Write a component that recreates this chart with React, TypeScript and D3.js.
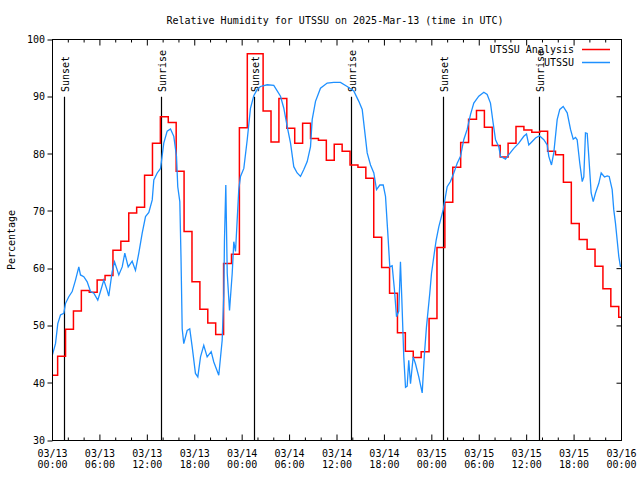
import React from "react";
import * as d3 from "d3";

// Hourly analysis values (step changes ~0.35 h before each hour mark), hours 0..72 from 03/13 00:00 UTC
const analysisValues = [
  41.4, 44.7, 49.4, 52.6, 56.2, 55.9, 58.0, 58.8, 63.2, 64.8,
  69.7, 70.7, 76.3, 81.9, 86.5, 85.5, 77.0, 66.5, 57.7, 52.9,
  50.5, 48.5, 60.9, 62.5, 84.6, 97.5, 97.5, 87.5, 82.1, 89.7,
  84.5, 81.9, 85.4, 82.7, 82.4, 78.9, 81.7, 80.5, 78.1, 77.7,
  75.8, 65.5, 60.2, 55.7, 48.8, 45.6, 44.5, 45.5, 51.3, 63.7,
  71.6, 77.7, 82.0, 86.1, 87.6, 84.7, 81.5, 79.5, 81.9, 84.8,
  84.2, 83.8, 84.0, 80.5, 79.9, 75.1, 67.9, 65.1, 63.4, 60.4,
  56.5, 53.4, 51.5,
];
const analysisStepOffset = -0.35;

// Station observations: hours since 03/13 00:00 UTC and relative humidity
const obsHours = [
  0, 0.38, 0.67, 1.01, 1.43, 1.64, 2.06, 2.49, 2.91, 3.33, 3.54, 3.96, 4.39, 4.81, 5.23, 5.73,
  6.07, 6.49, 6.92, 7.12, 7.55, 7.85, 8.39, 8.82, 9.15, 9.58, 10.08, 10.5, 10.92, 11.35, 11.77,
  12.19, 12.62, 12.82, 13.25, 13.67, 14.08, 14.51, 14.93, 15.35, 15.69, 15.85, 16.11, 16.26,
  16.41, 16.61, 17.04, 17.37, 17.68, 18.09, 18.39, 18.73, 19.14, 19.57, 20.08, 20.41, 21.04,
  21.47, 21.68, 21.76, 21.93, 22.11, 22.4, 22.74, 22.94, 23.16, 23.37, 23.57, 23.79, 24.21,
  24.64, 25.05, 25.47, 25.9, 26.32, 27.17, 28.0, 28.85, 29.27, 29.7, 30.12, 30.53, 30.96,
  31.38, 31.8, 32.23, 32.65, 32.86, 33.28, 33.91, 34.76, 35.59, 36.44, 37.29, 38.12, 38.76,
  39.19, 39.48, 39.82, 40.24, 40.66, 41.0, 41.42, 41.85, 42.14, 42.35, 42.43, 42.68, 42.98,
  43.27, 43.53, 43.82, 44.03, 44.2, 44.45, 44.67, 44.88, 45.08, 45.3, 45.64, 45.93, 46.35,
  46.78, 47.07, 47.32, 47.74, 47.96, 48.25, 48.55, 48.88, 49.44, 49.94, 50.36, 50.78, 51.21,
  51.63, 52.04, 52.47, 52.89, 53.31, 53.94, 54.58, 55.0, 55.42, 55.76, 56.06, 56.47, 56.69,
  57.32, 57.74, 58.37, 59.0, 59.64, 59.98, 60.27, 60.7, 61.12, 61.62, 62.17, 62.6, 62.8,
  63.14, 63.43, 63.86, 64.19, 64.62, 65.13, 65.55, 65.89, 66.18, 66.39, 66.72, 67.03, 67.23,
  67.44, 67.66, 67.86, 68.16, 68.42, 68.71, 69.13, 69.43, 69.85, 70.19, 70.44, 70.82, 71.02,
  71.24, 71.45, 71.66, 71.87,
];
const obsValues = [
  45.0, 46.9, 50.4, 51.9, 52.2, 53.9, 55.1, 56.0, 58.0, 60.3, 58.9, 58.6, 57.7, 56.0, 55.7, 54.5,
  56.0, 58.0, 56.2, 55.2, 59.5, 61.2, 58.9, 60.3, 62.7, 60.3, 61.3, 59.7, 62.7, 66.2, 69.1,
  69.8, 72.0, 75.5, 76.7, 77.5, 81.9, 84.0, 84.4, 83.1, 79.6, 74.3, 71.7, 62.0,
  49.5, 46.9, 49.2, 49.5, 46.3, 41.7, 41.1, 44.6, 46.6, 44.6, 45.5, 43.7, 41.4,
  47.5, 55.7, 65.0, 74.6, 59.2, 52.7, 59.2, 64.7, 63.0, 68.5, 73.8, 76.1, 77.5,
  82.5, 88.0, 90.2, 91.3, 91.8, 92.1, 92.0, 90.1, 88.0, 84.8, 81.9, 77.8, 76.7,
  76.1, 77.3, 78.7, 81.3, 86.0, 89.2, 91.5, 92.4, 92.5, 92.5, 91.8, 91.0, 89.2,
  87.8, 84.3, 80.2, 78.1, 76.7, 73.8, 74.6, 74.6, 72.6, 67.9, 66.2, 60.3, 60.5,
  56.3, 51.6, 52.6, 61.2, 54.8, 44.6, 39.3, 39.5, 44.0, 39.9, 44.6, 43.4, 41.1,
  38.3, 45.2, 49.8, 55.7, 59.2, 62.1, 65.0, 67.3, 70.3, 74.3, 75.2, 76.7, 78.4,
  79.6, 82.5, 84.3, 86.9, 88.9, 90.1, 90.8, 90.4, 88.9, 85.4, 82.5, 81.3, 79.6,
  79.1, 79.9, 81.0, 81.9, 83.1, 83.5, 81.6, 82.2, 82.8, 83.2, 82.5, 81.6, 79.6,
  78.1, 80.2, 86.0, 87.8, 88.3, 87.2, 84.3, 82.6, 82.9, 82.5, 78.4, 75.2, 76.0,
  83.7, 83.6, 79.6, 73.2, 71.7, 73.2, 74.9, 76.7, 76.0, 76.2, 76.1, 73.8, 70.3,
  67.9, 65.0, 62.1, 60.3,
];

const sunEventHours = [1.43, 13.69, 25.45, 37.71, 49.47, 61.6];
const sunEventLabels = ["Sunset", "Sunrise", "Sunset", "Sunrise", "Sunset", "Sunrise"];
const sunLineTop = 90;

const xTickHours = [0, 6, 12, 18, 24, 30, 36, 42, 48, 54, 60, 66, 72];
const xTickDates = ["03/13", "03/13", "03/13", "03/13", "03/14", "03/14", "03/14", "03/14", "03/15", "03/15", "03/15", "03/15", "03/16"];
const xTickTimes = ["00:00", "06:00", "12:00", "18:00", "00:00", "06:00", "12:00", "18:00", "00:00", "06:00", "12:00", "18:00", "00:00"];
const yTicks = [30, 40, 50, 60, 70, 80, 90, 100];

const seriesNames = ["UTSSU Analysis", "UTSSU"];
const seriesColors = ["#ff0000", "#1e90ff"];

const FONT = "'DejaVu Sans Mono', monospace";

export default function App() {
  const W = 640, H = 480;
  const left = 52.5, right = 621.5, top = 39.5, bottom = 440.5;
  const x = d3.scaleLinear().domain([0, 72]).range([left, right]);
  const y = d3.scaleLinear().domain([30, 100]).range([bottom, top]);

  const analysisPts: [number, number][] = analysisValues.map((v, k) => [Math.max(0, k + analysisStepOffset), v]);
  analysisPts.push([72, analysisValues[analysisValues.length - 1]]);
  const stepLine = d3.line<[number, number]>().x(d => x(d[0])).y(d => y(d[1])).curve(d3.curveStepAfter);
  const obsPts: [number, number][] = obsHours.map((h, i) => [h, obsValues[i]]);
  const line = d3.line<[number, number]>().x(d => x(d[0])).y(d => y(d[1]));

  const minorHours = d3.range(0, 73, 2).filter(h => h % 6 !== 0);

  return (
    <svg width={W} height={H} style={{ position: "absolute", left: 0, top: 0, background: "#fff" }} fontFamily={FONT} fontSize={10}>
      <rect x={0} y={0} width={W} height={H} fill="#fff" />
      <text x={335} y={24} textAnchor="middle">Relative Humidity for UTSSU on 2025-Mar-13 (time in UTC)</text>

      {/* ticks */}
      {yTicks.map(v => (
        <g key={"y" + v}>
          <line x1={left - 5} x2={left} y1={Math.round(y(v)) + 0.5 - 0.5} y2={Math.round(y(v))} stroke="#000" />
          <line x1={right - 5} x2={right} y1={y(v)} y2={y(v)} stroke="#000" />
          <text x={45} y={y(v) + 3.5} textAnchor="end">{v}</text>
        </g>
      ))}
      {xTickHours.map((h, i) => (
        <g key={"x" + h}>
          <line x1={x(h)} x2={x(h)} y1={bottom} y2={bottom - 6} stroke="#000" />
          <line x1={x(h)} x2={x(h)} y1={top} y2={top + 6} stroke="#000" />
          <text x={x(h)} y={457} textAnchor="middle">{xTickDates[i]}</text>
          <text x={x(h)} y={468} textAnchor="middle">{xTickTimes[i]}</text>
        </g>
      ))}
      {minorHours.map(h => (
        <g key={"m" + h}>
          <line x1={x(h)} x2={x(h)} y1={bottom} y2={bottom - 3} stroke="#000" />
          <line x1={x(h)} x2={x(h)} y1={top} y2={top + 3} stroke="#000" />
        </g>
      ))}

      <text transform={`translate(15,240) rotate(-90)`} textAnchor="middle">Percentage</text>

      {/* sunrise / sunset */}
      {sunEventHours.map((h, i) => (
        <g key={"s" + i}>
          <line x1={Math.round(x(h)) + 0.5} x2={Math.round(x(h)) + 0.5} y1={y(sunLineTop)} y2={y(30)} stroke="#000" strokeWidth={1.2} />
          <text transform={`translate(${Math.round(x(h)) + 5},92) rotate(-90)`} textAnchor="start">{sunEventLabels[i]}</text>
        </g>
      ))}

      <path d={stepLine(analysisPts) || ""} fill="none" stroke={seriesColors[0]} strokeWidth={1.5} />
      <path d={line(obsPts) || ""} fill="none" stroke={seriesColors[1]} strokeWidth={1.3} />

      {/* legend */}
      {seriesNames.map((n, i) => (
        <g key={n}>
          <text x={574} y={53 + i * 13} textAnchor="end">{n}</text>
          <line x1={582} x2={610} y1={49.5 + i * 13} y2={49.5 + i * 13} stroke={seriesColors[i]} strokeWidth={1.5} />
        </g>
      ))}

      <rect x={left} y={top} width={right - left} height={bottom - top} fill="none" stroke="#000" />
    </svg>
  );
}
